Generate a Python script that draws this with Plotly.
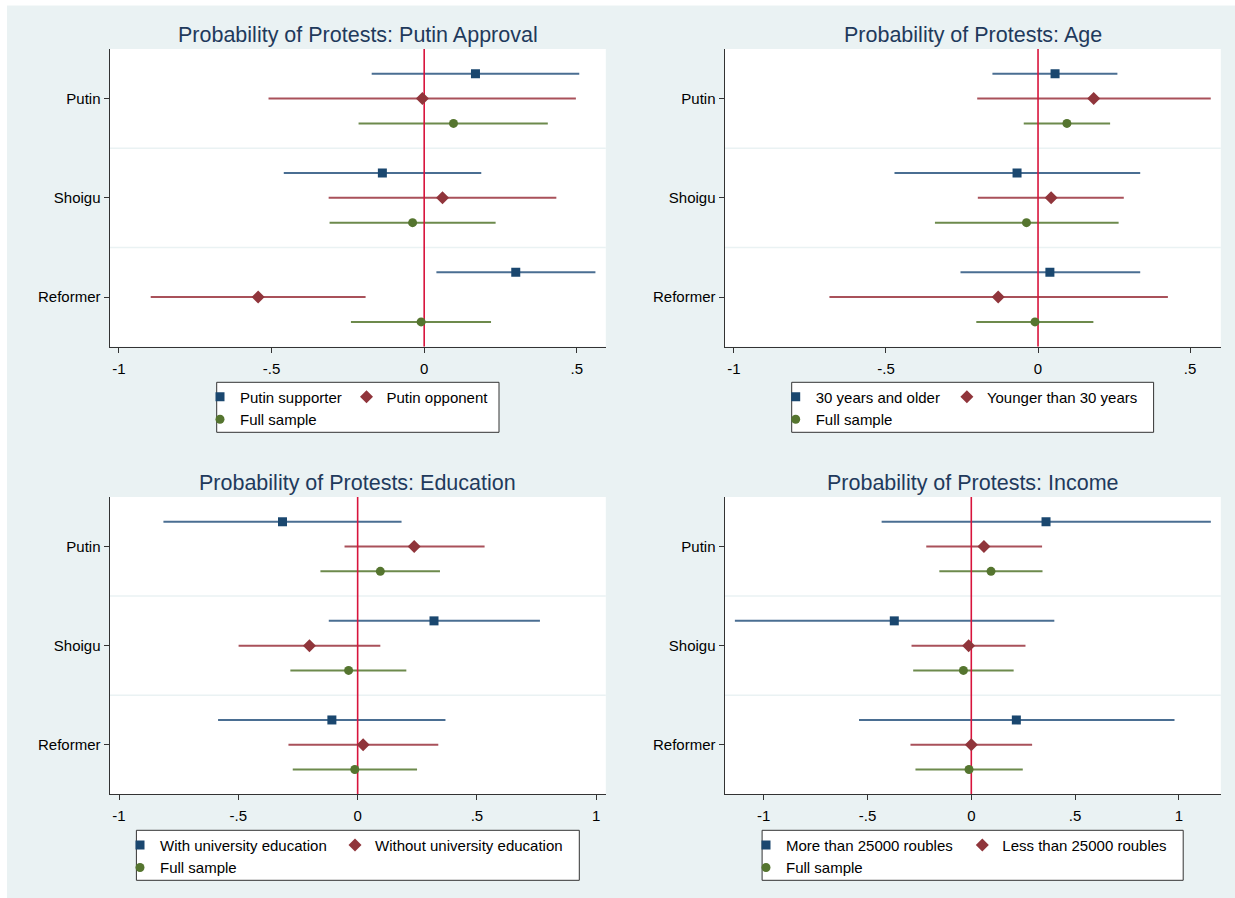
import plotly.graph_objects as go

# ---------------- data ----------------
categories = ["Putin", "Shoigu", "Reformer"]

titles = [
    "Probability of Protests: Putin Approval",
    "Probability of Protests: Age",
    "Probability of Protests: Education",
    "Probability of Protests: Income",
]

group_a_names = ["Putin supporter", "30 years and older", "With university education", "More than 25000 roubles"]
group_b_names = ["Putin opponent", "Younger than 30 years", "Without university education", "Less than 25000 roubles"]
full_name = "Full sample"

# Panel 1: Putin approval
approval_a_est = [0.168, -0.137, 0.300]
approval_a_lo = [-0.172, -0.460, 0.040]
approval_a_hi = [0.508, 0.187, 0.561]
approval_b_est = [-0.006, 0.060, -0.544]
approval_b_lo = [-0.510, -0.313, -0.896]
approval_b_hi = [0.497, 0.433, -0.192]
approval_f_est = [0.096, -0.038, -0.010]
approval_f_lo = [-0.215, -0.310, -0.240]
approval_f_hi = [0.405, 0.234, 0.219]

# Panel 2: Age
age_a_est = [0.056, -0.069, 0.039]
age_a_lo = [-0.150, -0.472, -0.255]
age_a_hi = [0.261, 0.336, 0.336]
age_b_est = [0.183, 0.043, -0.131]
age_b_lo = [-0.200, -0.198, -0.686]
age_b_hi = [0.568, 0.282, 0.427]
age_f_est = [0.095, -0.038, -0.010]
age_f_lo = [-0.047, -0.339, -0.203]
age_f_hi = [0.237, 0.265, 0.182]

# Panel 3: Education
edu_a_est = [-0.315, 0.320, -0.108]
edu_a_lo = [-0.814, -0.121, -0.585]
edu_a_hi = [0.184, 0.764, 0.368]
edu_b_est = [0.237, -0.202, 0.023]
edu_b_lo = [-0.055, -0.499, -0.290]
edu_b_hi = [0.532, 0.095, 0.338]
edu_f_est = [0.095, -0.038, -0.012]
edu_f_lo = [-0.156, -0.282, -0.272]
edu_f_hi = [0.345, 0.204, 0.249]

# Panel 4: Income
inc_a_est = [0.360, -0.371, 0.217]
inc_a_lo = [-0.432, -1.139, -0.541]
inc_a_hi = [1.154, 0.400, 0.979]
inc_b_est = [0.061, -0.013, 0.000]
inc_b_lo = [-0.217, -0.288, -0.293]
inc_b_hi = [0.341, 0.261, 0.293]
inc_f_est = [0.095, -0.038, -0.011]
inc_f_lo = [-0.154, -0.280, -0.269]
inc_f_hi = [0.343, 0.204, 0.248]

x_ranges = [[-1.031, 0.595], [-1.031, 0.601], [-1.04, 1.04], [-1.189, 1.202]]
x_tickvals = [[-1, -0.5, 0, 0.5], [-1, -0.5, 0, 0.5], [-1, -0.5, 0, 0.5, 1], [-1, -0.5, 0, 0.5, 1]]
x_ticktext = [["-1", "-.5", "0", ".5"], ["-1", "-.5", "0", ".5"],
              ["-1", "-.5", "0", ".5", "1"], ["-1", "-.5", "0", ".5", "1"]]

panel_data = [
    (approval_a_est, approval_a_lo, approval_a_hi, approval_b_est, approval_b_lo, approval_b_hi,
     approval_f_est, approval_f_lo, approval_f_hi),
    (age_a_est, age_a_lo, age_a_hi, age_b_est, age_b_lo, age_b_hi, age_f_est, age_f_lo, age_f_hi),
    (edu_a_est, edu_a_lo, edu_a_hi, edu_b_est, edu_b_lo, edu_b_hi, edu_f_est, edu_f_lo, edu_f_hi),
    (inc_a_est, inc_a_lo, inc_a_hi, inc_b_est, inc_b_lo, inc_b_hi, inc_f_est, inc_f_lo, inc_f_hi),
]

# ---------------- style / layout ----------------
W, H = 1235, 898
FONT = "Liberation Sans, Arial, sans-serif"
BG = "#EAF2F3"
NAVY, MAROON, GREEN = "#1A476F", "#90353B", "#55752F"
NAVY_CI, MAROON_CI, GREEN_CI = "#4A6E92", "#A9515A", "#6D8A4C"
ZERO = "#D8143C"
TITLE_C = "#1F3A5C"


def px(x):
    return x / W


def py(y):
    return 1 - y / H


# plot areas in pixels (left, right, top, bottom)
areas = [
    (109.5, 605.8, 49.0, 346.7),
    (724.5, 1220.8, 49.0, 346.7),
    (109.5, 605.8, 497.0, 794.3),
    (724.5, 1220.8, 497.0, 794.3),
]
title_y = [35, 35, 483, 483]
legend_boxes = [
    (216.7, 499.0, 382.3, 432.3),
    (791.7, 1153.6, 382.3, 432.3),
    (136.4, 579.3, 830.3, 880.3),
    (762.1, 1183.2, 830.3, 880.3),
]
legend_text_x = [(239, 385.5), (814.7, 985.9), (159, 374), (785, 1001.3)]
legend_row1_y = [396.7, 396.7, 845, 845]

fig = go.Figure()
layout = dict(
    width=W, height=H, margin=dict(l=0, r=0, t=0, b=0),
    paper_bgcolor=BG, plot_bgcolor="white",
    font=dict(family=FONT, size=15, color="black"),
    showlegend=True, shapes=[], annotations=[],
)


def legend_key(k):
    return "legend" if k == 0 else f"legend{k + 1}"


offsets = [-0.25, 0.0, 0.25]
for i in range(4):
    n = i + 1
    xa = "x" if n == 1 else f"x{n}"
    ya = "y" if n == 1 else f"y{n}"
    xkey = "xaxis" if n == 1 else f"xaxis{n}"
    ykey = "yaxis" if n == 1 else f"yaxis{n}"
    a_est, a_lo, a_hi, b_est, b_lo, b_hi, f_est, f_lo, f_hi = panel_data[i]
    series = [
        (group_a_names[i], a_est, a_lo, a_hi, NAVY, NAVY_CI, "square", 9, offsets[0], 0),
        (group_b_names[i], b_est, b_lo, b_hi, MAROON, MAROON_CI, "diamond", 10, offsets[1], 1),
        (full_name, f_est, f_lo, f_hi, GREEN, GREEN_CI, "circle", 9, offsets[2], 0),
    ]
    # CI lines
    for name, est, lo, hi, col, cicol, sym, size, off, col_idx in series:
        ys = [k + 1 + off for k in range(len(categories))]
        fig.add_trace(go.Scatter(
            x=est, y=ys, mode="markers", xaxis=xa, yaxis=ya,
            marker=dict(size=1, color="rgba(0,0,0,0)"),
            error_x=dict(type="data", symmetric=False,
                         array=[h - e for h, e in zip(hi, est)],
                         arrayminus=[e - l for e, l in zip(est, lo)],
                         color=cicol, thickness=2, width=0),
            showlegend=False, hoverinfo="skip"))
    # zero reference line
    fig.add_trace(go.Scatter(x=[0, 0], y=[0.5, len(categories) + 0.5], mode="lines",
                             line=dict(color=ZERO, width=1.6), xaxis=xa, yaxis=ya,
                             showlegend=False, hoverinfo="skip"))
    # point estimates
    for name, est, lo, hi, col, cicol, sym, size, off, col_idx in series:
        ys = [k + 1 + off for k in range(len(categories))]
        fig.add_trace(go.Scatter(
            x=est, y=ys, mode="markers", xaxis=xa, yaxis=ya, name=name,
            marker=dict(symbol=sym, size=size, color=col),
            legend=legend_key(2 * i + col_idx), showlegend=True))

    l, r, t, b = areas[i]
    layout[xkey] = dict(
        domain=[px(l), px(r)], range=x_ranges[i], anchor=ya,
        tickmode="array", tickvals=x_tickvals[i], ticktext=x_ticktext[i],
        showline=True, linecolor="#333333", linewidth=1,
        ticks="outside", ticklen=5, tickwidth=1, tickcolor="#333333",
        showgrid=False, zeroline=False, automargin=False,
        tickfont=dict(size=15, color="black"), ticklabelstandoff=3)
    layout[ykey] = dict(
        domain=[py(b), py(t)], range=[len(categories) + 0.5, 0.5], anchor=xa,
        tickmode="array", tickvals=[1, 2, 3], ticktext=categories,
        showline=True, linecolor="#333333", linewidth=1,
        ticks="outside", ticklen=5, tickwidth=1, tickcolor="#333333",
        showgrid=False, zeroline=False, automargin=False,
        tickfont=dict(size=15, color="black"))
    # separators between categories
    for sep in [1.5, 2.5]:
        layout["shapes"].append(dict(type="line", xref=f"{xa} domain", yref=ya,
                                     x0=0, x1=1, y0=sep, y1=sep, layer="below",
                                     line=dict(color=BG, width=1.5)))
    # title
    layout["annotations"].append(dict(
        text=titles[i], xref="paper", yref="paper", x=px((l + r) / 2), y=py(title_y[i]),
        xanchor="center", yanchor="middle", showarrow=False,
        font=dict(size=21.5, color=TITLE_C, family=FONT)))
    # legend box
    bl, br, bt, bb = legend_boxes[i]
    layout["shapes"].append(dict(type="rect", xref="paper", yref="paper",
                                 x0=px(bl), x1=px(br), y0=py(bb), y1=py(bt),
                                 fillcolor="white", line=dict(color="#333333", width=1),
                                 layer="above"))
    # legends (two columns)
    for c in range(2):
        layout[legend_key(2 * i + c)] = dict(
            x=px(legend_text_x[i][c] - 39), y=py(legend_row1_y[i] - 16.25),
            xanchor="left", yanchor="top", orientation="v",
            bgcolor="rgba(0,0,0,0)", borderwidth=0, tracegroupgap=0,
            font=dict(size=15, color="black", family=FONT),
            itemclick=False, itemdoubleclick=False)

# white margin strips on the left and top edges
layout["shapes"].append(dict(type="rect", xref="paper", yref="paper", x0=0, x1=px(7), y0=0, y1=1,
                             line=dict(width=0), fillcolor="white", layer="above"))
layout["shapes"].append(dict(type="rect", xref="paper", yref="paper", x0=0, x1=1, y0=py(5.5), y1=1,
                             line=dict(width=0), fillcolor="white", layer="above"))

fig.update_layout(**layout)
fig.write_html("out.html")
